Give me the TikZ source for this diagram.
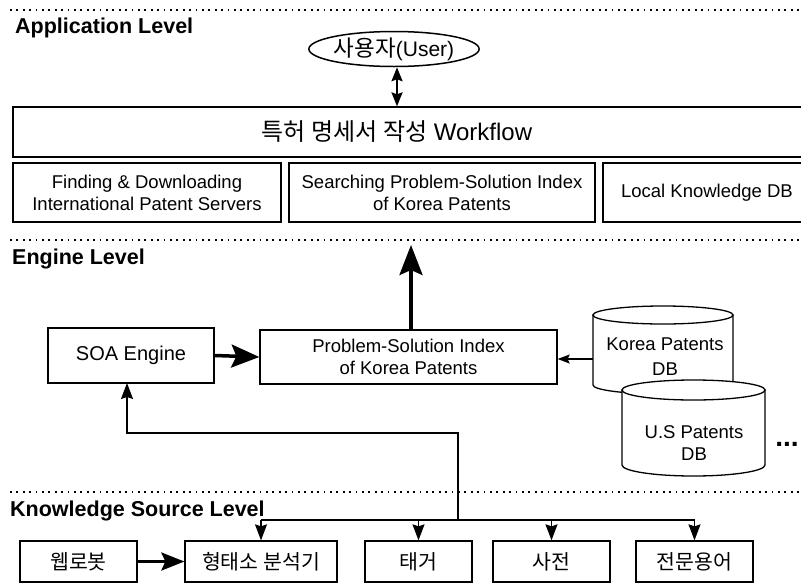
\documentclass[tikz,border=0pt]{standalone}
\usepackage{fontspec}
\setmainfont{Liberation Sans}
\newfontfamily\kr{Noto Sans CJK KR}
\usetikzlibrary{arrows.meta,calc,shapes.geometric}
\begin{document}
\begin{tikzpicture}[x=1pt,y=-1pt,
  box/.style={draw, line width=1.3pt, rectangle, inner sep=0pt, align=center,
    font=\fontsize{18.5}{22}\selectfont},
  kbox/.style={box, minimum height=41pt, font=\kr\fontsize{20.5}{22}\selectfont},
  txt/.style={inner sep=0pt, align=center, font=\fontsize{18.5}{22}\selectfont},
  lvl/.style={anchor=west, inner sep=0pt, font=\bfseries\fontsize{21.5}{24}\selectfont},
  sepline/.style={line width=1.8pt, dash pattern=on 1.8pt off 4.6pt},
  cyl/.style={line width=1.3pt, fill=white},
  bigarrow/.style={line width=3.5pt, -{Stealth[length=28pt,width=23pt,inset=5pt]}},
  midarrow/.style={line width=3pt, -{Stealth[length=23pt,width=18pt,inset=4pt]}},
  smallarrow/.style={line width=1.3pt, -{Stealth[length=16pt,width=12pt,inset=2pt]}},
  thinarrow/.style={line width=1.3pt, -{Stealth[length=12pt,width=9pt,inset=2pt]}},
  dblarrow/.style={line width=2pt, {Stealth[length=14pt,width=11pt,inset=2pt]}-{Stealth[length=14pt,width=11pt,inset=2pt]}},
]
\useasboundingbox (0,0) rectangle (801,587);
\fill[white] (0,0) rectangle (801,587);

% separators
\coordinate (s1a) at (10,10);  \coordinate (s1b) at (801,10);
\coordinate (s2a) at (10,240); \coordinate (s2b) at (801,240);
\coordinate (s3a) at (10,492); \coordinate (s3b) at (801,492);
\draw[sepline] (s1a) -- (s1b);
\draw[sepline] (s2a) -- (s2b);
\draw[sepline] (s3a) -- (s3b);

% level labels
\node[lvl] (lapp) at (15,28) {Application Level};
\node[lvl] (leng) at (12,259) {Engine Level};
\node[lvl] (lks) at (10,511) {Knowledge Source Level};

% Application level
\node[draw, ellipse, line width=1.5pt, minimum width=168pt, minimum height=35pt, inner sep=0pt,
      font=\fontsize{21}{22}\selectfont] (user) at (394,49) {{\kr\fontsize{22.5}{22}\selectfont 사용자}(User)};
\node[box, minimum width=800pt, minimum height=50pt] (wf) at (413,132) {};
\node[txt, font=\fontsize{24}{26}\selectfont] (wftext) at (397,132) {{\kr 특허 명세서 작성} Workflow};
\draw[dblarrow] (user.south -| 397,0) -- (wf.north -| 397,0);

\node[box, minimum width=268pt, minimum height=59pt] (f1) at (147,192.5)
  {Finding \& Downloading\\International Patent Servers};
\node[box, minimum width=306pt, minimum height=59pt] (f2) at (442,192.5)
  {Searching Problem-Solution Index\\of Korea Patents};
\node[box, minimum width=210pt, minimum height=59pt] (f3) at (708,192.5) {};
\node[txt] (f3text) at (707,192.5) {Local Knowledge DB};

% Engine level
\node[box, minimum width=166pt, minimum height=55pt, font=\fontsize{20}{22}\selectfont] (soa) at (131,355.5) {SOA Engine};
\node[box, minimum width=297pt, minimum height=54pt] (ps) at (408.5,357)
  {Problem-Solution Index\\of Korea Patents};
\draw[bigarrow] (soa.east) -- (ps.west);
\coordinate (uptip) at (411,245);
\draw[bigarrow, -{Stealth[length=30pt,width=23pt,inset=5pt]}] (ps.north -| uptip) -- (uptip);

% Korea Patents DB cylinder
\draw[cyl] (593,315) -- (593,385) arc[start angle=180, end angle=0, x radius=70, y radius=9] -- (733,315) -- cycle;
\draw[cyl] (663,315) ellipse [x radius=70, y radius=9];
\node[txt, font=\fontsize{18.5}{25}\selectfont] (kdb) at (665,357) {Korea Patents\\DB};
% U.S Patents DB cylinder
\draw[cyl] (622,390) -- (622,465) arc[start angle=180, end angle=0, x radius=71.5, y radius=11] -- (765,390) -- cycle;
\draw[cyl] (693.5,390) ellipse [x radius=71.5, y radius=10];
\node[txt, font=\fontsize{18.5}{22}\selectfont] (udb) at (694,443) {U.S Patents\\DB};
\node[inner sep=0pt, anchor=base, font=\bfseries\fontsize{28}{28}\selectfont] (more) at (787,446) {...};

\coordinate (kleft) at (593,359);
\draw[thinarrow] (kleft) -- (ps.east |- kleft);

% Knowledge source level
\node[kbox, minimum width=117pt] (web) at (78.5,561.5) {웹로봇};
\node[kbox, minimum width=152pt] (morph) at (261,561.5) {형태소 분석기};
\node[kbox, minimum width=107pt] (tag) at (418.5,561.5) {태거};
\node[kbox, minimum width=117pt] (dict) at (551.5,561.5) {사전};
\node[kbox, minimum width=117pt] (term) at (694.5,561.5) {전문용어};
\draw[midarrow] (web.east) -- (morph.west);

\coordinate (bus) at (458,520);
\coordinate (up) at (458,433);
\coordinate (soabot) at (127,383);
\draw[line width=1.3pt] (morph.north |- bus) -- (term.north |- bus);
\draw[smallarrow] (bus) -- (up) -| (soabot);
\draw[smallarrow] (morph.north |- bus) -- (morph.north);
\draw[smallarrow] (tag.north |- bus) -- (tag.north);
\draw[smallarrow] (dict.north |- bus) -- (dict.north);
\draw[smallarrow] (term.north |- bus) -- (term.north);
\end{tikzpicture}
\end{document}
